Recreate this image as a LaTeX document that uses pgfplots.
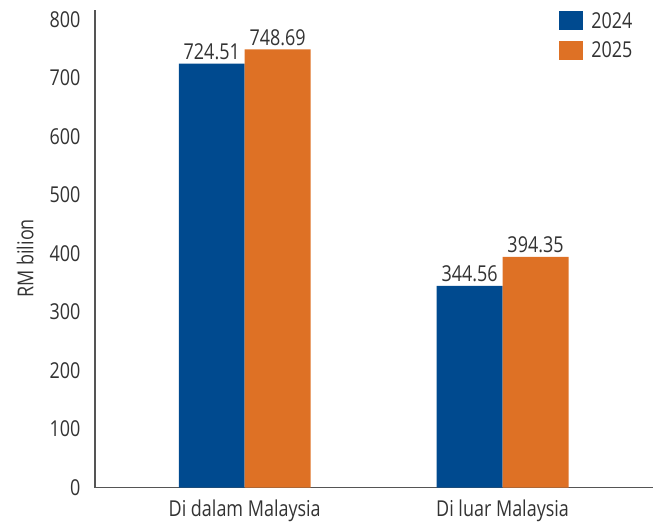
\documentclass[border=0pt]{standalone}
\usepackage{fontspec}
\setmainfont{Open Sans}[FakeStretch=0.82]
\usepackage{pgfplots}
\pgfplotsset{compat=1.18}
\definecolor{cblue}{HTML}{004A8F}
\definecolor{corange}{HTML}{DE7125}
\definecolor{txt}{HTML}{333333}
\definecolor{axc}{HTML}{555555}
\newcommand\lf{\fontsize{22}{24}\selectfont}
\begin{document}
\begin{tikzpicture}
\begin{axis}[
  scale only axis, width=559bp, height=478bp,
  ybar=0pt, bar width=66bp,
  ymin=0, ymax=816, xmin=-0.581, xmax=1.585,
  axis x line*=bottom, axis y line*=left,
  axis line style={axc, line width=1.2bp},
  ytick={0,100,...,800}, xtick={0,1},
  xticklabels={Di dalam Malaysia, Di luar Malaysia},
  major tick length=0pt,
  /pgf/number format/assume math mode=true,
  tick label style={font=\lf, text=txt},
  yticklabel style={xshift=-11bp},
  xticklabel style={yshift=-9bp},
  ylabel={RM bilion},
  ylabel style={at={(axis description cs:-0.125,0.48)}, anchor=center, font=\lf, text=txt},
  nodes near coords={\pgfmathprintnumber[fixed,fixed zerofill,precision=2]{\pgfplotspointmeta}},
  nodes near coords style={font=\lf, text=txt, inner sep=3.5bp},
  legend style={at={(rel axis cs:0.968,1.002)}, anchor=north east, draw=none, fill=none,
    font=\lf, text=txt, row sep=8bp, inner sep=1bp,
    /tikz/every odd column/.append style={column sep=6bp}},
  legend cell align=left,
]
\addplot[fill=cblue, draw=none, legend image code/.code={\fill[cblue] (0bp,-9.5bp) rectangle (24bp,9.5bp);}] coordinates {(0,724.51) (1,344.56)};
\addplot[fill=corange, draw=none, legend image code/.code={\fill[corange] (0bp,-9.5bp) rectangle (24bp,9.5bp);}] coordinates {(0,748.69) (1,394.35)};
\legend{2024,2025}
\end{axis}
\path (current axis.south west)++(-95bp,-38bp) coordinate (bl);
\path (current axis.north east)++(0bp,10bp) coordinate (tr);
\path (bl) rectangle (tr);
\end{tikzpicture}
\end{document}
